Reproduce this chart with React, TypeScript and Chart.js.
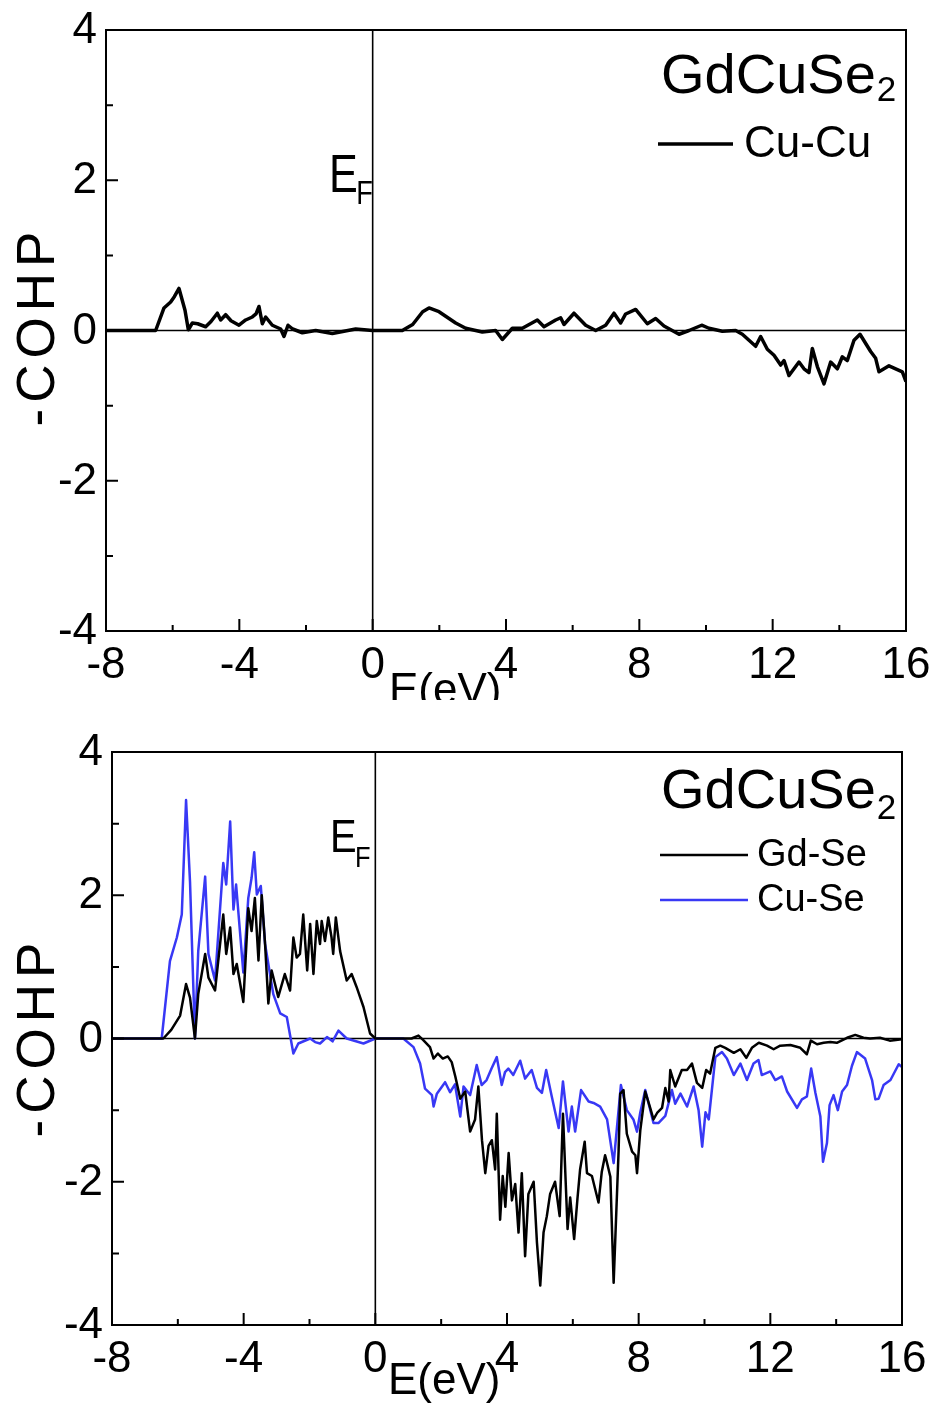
import React, { useEffect, useRef } from "react";
import { Chart, registerables } from "chart.js";

Chart.register(...registerables);

const FONT = '"Liberation Sans", Arial, Helvetica, sans-serif';

// ---- axis ticks ----
const xTicks = [-8, -4, 0, 4, 8, 12, 16];
const xMinorTicks = [-6, -2, 2, 6, 10, 14];
const yTicks = [-4, -2, 0, 2, 4];
const yMinorTicks = [-3, -1, 1, 3];

// ---- Cu-Cu bond COHP (upper panel) ----
const cuCuE = [
  -8, -6.51, -6.26, -6.06, -5.95, -5.81, -5.63, -5.53, -5.41, -5.25, -5.01, -4.85, -4.66, -4.56,
  -4.41, -4.25, -4.01, -3.81, -3.61, -3.5, -3.41, -3.31, -3.21, -3.01, -2.76, -2.66, -2.54, -2.4,
  -2.11, -1.71, -1.21, -0.51, 0, 0.89, 1.2, 1.5, 1.69, 1.99, 2.29, 2.49, 2.79, 3.29, 3.69, 3.89,
  4.19, 4.49, 4.94, 5.14, 5.49, 5.64, 5.74, 6.04, 6.39, 6.69, 6.99, 7.24, 7.44, 7.59, 7.89, 8.24,
  8.49, 8.74, 9.19, 9.49, 9.87, 10.09, 10.49, 10.89, 11.09, 11.49, 11.64, 11.84, 12.04, 12.24,
  12.34, 12.49, 12.79, 12.94, 13.09, 13.19, 13.34, 13.54, 13.74, 13.94, 14.09, 14.24, 14.44,
  14.62, 14.94, 15.09, 15.19, 15.49, 15.74, 15.89, 16,
];
const cuCuV = [
  0, 0, 0.3, 0.38, 0.45, 0.56, 0.27, 0.01, 0.1, 0.09, 0.05, 0.12, 0.23, 0.14,
  0.21, 0.13, 0.07, 0.14, 0.18, 0.22, 0.32, 0.09, 0.18, 0.07, 0.02, -0.08, 0.07, 0.02,
  -0.03, 0, -0.04, 0.02, 0, 0, 0.08, 0.25, 0.3, 0.25, 0.16, 0.1, 0.03, -0.02, 0, -0.12,
  0.03, 0.03, 0.14, 0.05, 0.14, 0.17, 0.08, 0.23, 0.07, 0, 0.07, 0.23, 0.1, 0.22, 0.28, 0.09,
  0.16, 0.06, -0.05, 0, 0.07, 0.03, -0.01, 0, -0.05, -0.21, -0.08, -0.25, -0.33, -0.46,
  -0.4, -0.6, -0.42, -0.51, -0.56, -0.24, -0.48, -0.71, -0.42, -0.51, -0.35, -0.4, -0.13,
  -0.05, -0.28, -0.37, -0.55, -0.47, -0.52, -0.55, -0.68,
];

// ---- Gd-Se bond COHP (lower panel, black) ----
const gdSeE = [
  -8, -6.44, -6.2, -5.93, -5.75, -5.63, -5.48, -5.38, -5.17, -5.07, -4.87, -4.62, -4.53, -4.41,
  -4.31, -4.21, -4.01, -3.86, -3.76, -3.66, -3.55, -3.45, -3.35, -3.25, -3.15, -2.95, -2.75,
  -2.59, -2.49, -2.39, -2.29, -2.19, -2.07, -1.98, -1.88, -1.78, -1.68, -1.63, -1.53, -1.43,
  -1.33, -1.28, -1.2, -1.07, -0.87, -0.72, -0.57, -0.36, -0.16, 0, 1.1, 1.31, 1.45, 1.66, 1.77,
  1.9, 2.05, 2.2, 2.32, 2.43, 2.58, 2.73, 2.88, 3.03, 3.13, 3.24, 3.34, 3.44, 3.54, 3.64, 3.69,
  3.79, 3.87, 3.95, 4.05, 4.15, 4.25, 4.35, 4.45, 4.55, 4.65, 4.81, 4.91, 5.01, 5.11, 5.21,
  5.31, 5.46, 5.6, 5.7, 5.84, 5.92, 6.04, 6.14, 6.22, 6.36, 6.43, 6.58, 6.78, 6.88, 6.98, 7.02,
  7.14, 7.24, 7.39, 7.44, 7.54, 7.64, 7.8, 7.9, 7.95, 8.05, 8.2, 8.35, 8.45, 8.56, 8.71, 8.81,
  8.91, 8.96, 9.11, 9.31, 9.47, 9.62, 9.77, 9.93, 10.05, 10.17, 10.33, 10.48, 10.63, 10.89,
  11.09, 11.27, 11.44, 11.65, 11.9, 12.1, 12.3, 12.61, 12.91, 13.11, 13.23, 13.42, 13.62, 13.82,
  14.02, 14.33, 14.58, 14.83, 15.03, 15.33, 15.63, 16,
];
const gdSeV = [
  0, 0, 0.12, 0.32, 0.76, 0.57, 0, 0.62, 1.18, 0.85, 0.67, 1.73, 1.18, 1.55,
  0.9, 1.04, 0.51, 1.82, 1.5, 1.96, 1.09, 2.0, 1.32, 0.49, 0.95, 0.58, 0.9,
  0.67, 1.41, 1.13, 1.18, 1.73, 0.95, 1.6, 0.9, 1.64, 1.32, 1.64, 1.36, 1.69,
  1.41, 1.18, 1.69, 1.22, 0.81, 0.9, 0.72, 0.44, 0.07, 0, 0, 0.04, -0.02, -0.12, -0.28,
  -0.21, -0.28, -0.25, -0.33, -0.53, -0.84, -0.74, -1.3, -1.13, -0.67, -1.42, -1.88, -1.5, -1.42, -1.83, -1.05,
  -2.53, -1.92, -2.35, -1.6, -2.26, -2.03, -2.71, -1.88, -3.04, -2.17, -2.0, -2.85, -3.45, -2.71, -2.48,
  -2.17, -2.0, -2.48, -1.05, -2.66, -2.22, -2.8, -2.24, -1.83, -1.44, -1.88, -1.92, -2.29, -1.86, -1.63, -1.7,
  -1.93, -3.41, -1.57, -0.77, -0.72, -1.33, -1.58, -1.63, -1.88, -1.28, -0.74, -0.97, -1.13, -1.04, -0.97, -0.69,
  -0.88, -0.44, -0.67, -0.44, -0.44, -0.35, -0.62, -0.69, -0.44, -0.49, -0.13, -0.1, -0.13, -0.2,
  -0.15, -0.27, -0.13, -0.06, -0.1, -0.15, -0.1, -0.09, -0.13, -0.22, -0.03, -0.08, -0.06, -0.05,
  -0.06, 0.01, 0.05, 0.01, 0, 0.01, -0.03, -0.01,
];

// ---- Cu-Se bond COHP (lower panel, blue) ----
const cuSeE = [
  -8, -6.49, -6.24, -6.03, -5.88, -5.75, -5.63, -5.48, -5.38, -5.17, -5.07, -4.87, -4.62, -4.53,
  -4.41, -4.31, -4.23, -4.01, -3.86, -3.76, -3.68, -3.6, -3.48, -3.35, -3.1, -2.89, -2.69, -2.49,
  -2.34, -1.98, -1.83, -1.68, -1.47, -1.3, -1.12, -0.87, -0.36, 0, 0.85, 1.16, 1.36, 1.51, 1.72,
  1.77, 1.87, 2.12, 2.27, 2.42, 2.58, 2.68, 2.88, 3.08, 3.23, 3.38, 3.53, 3.69, 3.84, 3.94, 4.04,
  4.19, 4.4, 4.55, 4.75, 4.91, 5.06, 5.19, 5.36, 5.57, 5.7, 5.87, 5.97, 6.07, 6.25, 6.48, 6.63,
  6.83, 7.04, 7.24, 7.46, 7.64, 7.84, 7.95, 8.05, 8.2, 8.45, 8.6, 8.81, 9.01, 9.11, 9.27, 9.47,
  9.67, 9.82, 9.93, 10.03, 10.13, 10.33, 10.53, 10.68, 10.89, 11.09, 11.29, 11.49, 11.64, 11.74,
  12.0, 12.15, 12.35, 12.51, 12.81, 12.96, 13.11, 13.24, 13.37, 13.52, 13.6, 13.72, 13.8, 13.92,
  14.05, 14.18, 14.33, 14.48, 14.63, 14.88, 15.09, 15.19, 15.29, 15.44, 15.65, 15.9, 16,
];
const cuSeV = [
  0, 0, 1.08, 1.41, 1.73, 3.33, 2.19, 0, 1.22, 2.26, 1.18, 0.81, 2.45, 2.15,
  3.03, 1.8, 2.15, 0.92, 1.96, 2.24, 2.6, 2.01, 2.13, 1.32, 0.62, 0.35, 0.3, -0.21,
  -0.07, 0, -0.05, -0.07, 0.02, -0.04, 0.11, 0, -0.07, 0, 0, -0.12, -0.35, -0.7, -0.79,
  -0.95, -0.77, -0.61, -0.75, -0.64, -1.09, -0.67, -0.79, -0.37, -0.65, -0.58, -0.42, -0.26, -0.65, -0.47, -0.42,
  -0.51, -0.31, -0.56, -0.44, -0.69, -0.76, -0.44, -0.81, -1.25, -0.6, -1.3, -0.95, -1.3, -0.72, -0.88, -0.9,
  -0.95, -1.13, -1.74, -0.65, -1.0, -1.13, -1.3, -1.03, -0.72, -1.18, -1.18, -1.08, -0.72, -0.91, -0.77, -0.95,
  -0.67, -1.0, -1.51, -1.03, -1.13, -0.26, -0.19, -0.28, -0.51, -0.35, -0.58, -0.35, -0.3, -0.51,
  -0.46, -0.58, -0.53, -0.74, -0.97, -0.85, -0.81, -0.42, -0.76, -1.09, -1.72, -1.46, -0.93, -0.79,
  -1.0, -0.74, -0.65, -0.38, -0.19, -0.28, -0.58, -0.85, -0.84, -0.65, -0.58, -0.36, -0.4,
];

type Series = { label: string; e: number[]; v: number[]; color: string; width: number };

type PanelSpec = {
  height: number;
  area: { left: number; right: number; top: number; bottom: number };
  series: Series[];
  compound: { x: number; y: number; size: number; subSize: number; subDy: number };
  legend: { lineX0: number; lineX1: number; textX: number; y0: number; dy: number; size: number };
  fermi: { x: number; y: number; size: number; subSize: number; subDy: number; squeeze: number };
  xTitle: { x: number; y: number; size: number };
  yTitle: { cx: number; cy: number; size: number; spacing: number };
  tickSize: number;
  xLabelDy: number;
};

const BLACK = "#000000";
const BLUE = "#3838f5";

const topPanel: PanelSpec = {
  height: 700,
  area: { left: 106, right: 906, top: 30, bottom: 631 },
  series: [{ label: "Cu-Cu", e: cuCuE, v: cuCuV, color: BLACK, width: 3.5 }],
  compound: { x: 661, y: 93, size: 56, subSize: 35, subDy: 8 },
  legend: { lineX0: 658, lineX1: 733, textX: 744, y0: 144, dy: 45, size: 44 },
  fermi: { x: 329, y: 192, size: 54, subSize: 34, subDy: 12, squeeze: 0.8 },
  xTitle: { x: 389, y: 704, size: 44 },
  yTitle: { cx: 35, cy: 329, size: 53, spacing: 6 },
  tickSize: 44,
  xLabelDy: 47,
};

const bottomPanel: PanelSpec = {
  height: 710,
  area: { left: 112, right: 902, top: 52, bottom: 625 },
  series: [
    { label: "Gd-Se", e: gdSeE, v: gdSeV, color: BLACK, width: 2.5 },
    { label: "Cu-Se", e: cuSeE, v: cuSeV, color: BLUE, width: 2.5 },
  ],
  compound: { x: 661, y: 108, size: 56, subSize: 35, subDy: 11 },
  legend: { lineX0: 660, lineX1: 748, textX: 757, y0: 155, dy: 45, size: 38 },
  fermi: { x: 330, y: 152, size: 47, subSize: 30, subDy: 15, squeeze: 0.85 },
  xTitle: { x: 388, y: 694, size: 44 },
  yTitle: { cx: 35, cy: 340, size: 53, spacing: 6 },
  tickSize: 44,
  xLabelDy: 47,
};

function font(size: number) {
  return `${size}px ${FONT}`;
}

function makeDecorations(spec: PanelSpec) {
  return {
    id: "cohpDecorations",
    beforeDatasetsDraw(chart: any) {
      const { ctx, chartArea: a, scales } = chart;
      const x0 = scales.x.getPixelForValue(0);
      const y0 = scales.y.getPixelForValue(0);
      ctx.save();
      ctx.strokeStyle = "#000";
      ctx.lineWidth = 1.6;
      ctx.beginPath();
      ctx.moveTo(a.left, y0);
      ctx.lineTo(a.right, y0);
      ctx.moveTo(x0, a.top);
      ctx.lineTo(x0, a.bottom);
      ctx.stroke();
      ctx.restore();
    },
    afterDatasetsDraw(chart: any) {
      const { ctx, chartArea: a, scales } = chart;
      const xs = scales.x;
      const ys = scales.y;
      ctx.save();
      ctx.strokeStyle = "#000";
      ctx.fillStyle = "#000";

      // frame
      ctx.lineWidth = 2;
      ctx.strokeRect(a.left, a.top, a.right - a.left, a.bottom - a.top);

      // inward tick marks on bottom and left axes
      ctx.lineWidth = 2;
      ctx.beginPath();
      xTicks.forEach((t) => {
        const px = xs.getPixelForValue(t);
        ctx.moveTo(px, a.bottom);
        ctx.lineTo(px, a.bottom - 12);
      });
      xMinorTicks.forEach((t) => {
        const px = xs.getPixelForValue(t);
        ctx.moveTo(px, a.bottom);
        ctx.lineTo(px, a.bottom - 6);
      });
      yTicks.forEach((t) => {
        const py = ys.getPixelForValue(t);
        ctx.moveTo(a.left, py);
        ctx.lineTo(a.left + 12, py);
      });
      yMinorTicks.forEach((t) => {
        const py = ys.getPixelForValue(t);
        ctx.moveTo(a.left, py);
        ctx.lineTo(a.left + 7, py);
      });
      ctx.stroke();

      // tick labels
      ctx.font = font(spec.tickSize);
      ctx.textAlign = "center";
      ctx.textBaseline = "alphabetic";
      xTicks.forEach((t) => {
        ctx.fillText(String(t), xs.getPixelForValue(t), a.bottom + spec.xLabelDy);
      });
      ctx.textAlign = "right";
      ctx.textBaseline = "middle";
      yTicks.forEach((t) => {
        ctx.fillText(String(t), a.left - 9, ys.getPixelForValue(t) + 1);
      });

      // compound name with subscript
      ctx.textAlign = "left";
      ctx.textBaseline = "alphabetic";
      const c = spec.compound;
      ctx.font = font(c.size);
      ctx.fillText("GdCuSe", c.x, c.y);
      const w = ctx.measureText("GdCuSe").width;
      ctx.font = font(c.subSize);
      ctx.fillText("2", c.x + w + 1, c.y + c.subDy);

      // legend entries
      const l = spec.legend;
      spec.series.forEach((s, i) => {
        const y = l.y0 + i * l.dy;
        ctx.strokeStyle = s.color;
        ctx.lineWidth = s.width;
        ctx.beginPath();
        ctx.moveTo(l.lineX0, y);
        ctx.lineTo(l.lineX1, y);
        ctx.stroke();
        ctx.font = font(l.size);
        ctx.fillStyle = "#000";
        ctx.textBaseline = "middle";
        ctx.fillText(s.label, l.textX, y + 1);
      });

      // Fermi level marker (narrow lettering)
      const f = spec.fermi;
      ctx.textBaseline = "alphabetic";
      ctx.save();
      ctx.translate(f.x, f.y);
      ctx.scale(f.squeeze, 1);
      ctx.font = font(f.size);
      ctx.fillText("E", 0, 0);
      const ew = ctx.measureText("E").width;
      ctx.font = font(f.subSize);
      ctx.fillText("F", ew - 2, f.subDy);
      ctx.restore();

      // x axis title
      const xt = spec.xTitle;
      ctx.font = font(xt.size);
      ctx.fillText("E(eV)", xt.x, xt.y);

      // y axis title, rotated, letter-spaced
      const yt = spec.yTitle;
      ctx.font = font(yt.size);
      const chars = "-COHP".split("");
      const widths = chars.map((ch) => ctx.measureText(ch).width);
      const total = widths.reduce((p, q) => p + q, 0) + yt.spacing * (chars.length - 1);
      ctx.translate(yt.cx, yt.cy);
      ctx.rotate(-Math.PI / 2);
      let cx = -total / 2;
      const base = yt.size * 0.358;
      chars.forEach((ch, i) => {
        ctx.fillText(ch, cx, base);
        cx += widths[i] + yt.spacing;
      });
      ctx.restore();
    },
  };
}

function buildConfig(spec: PanelSpec): any {
  const a = spec.area;
  return {
    type: "line",
    data: {
      datasets: spec.series.map((s) => ({
        label: s.label,
        data: s.e.map((x, i) => ({ x, y: s.v[i] })),
        borderColor: s.color,
        borderWidth: s.width,
        borderJoinStyle: "round",
        pointRadius: 0,
        tension: 0,
        fill: false,
      })),
    },
    options: {
      animation: false,
      responsive: false,
      devicePixelRatio: 1,
      events: [],
      layout: { padding: { left: 0, right: 941 - a.right, top: a.top, bottom: 0 } },
      plugins: { legend: { display: false }, tooltip: { enabled: false }, title: { display: false } },
      scales: {
        x: {
          type: "linear",
          min: -8,
          max: 16,
          ticks: { display: false },
          grid: { display: false },
          border: { display: false },
          afterFit: (s: any) => {
            s.height = spec.height - a.bottom;
          },
        },
        y: {
          type: "linear",
          min: -4,
          max: 4,
          ticks: { display: false },
          grid: { display: false },
          border: { display: false },
          afterFit: (s: any) => {
            s.width = a.left;
          },
        },
      },
    },
    plugins: [makeDecorations(spec)],
  };
}

function Panel({ spec, top }: { spec: PanelSpec; top: number }) {
  const ref = useRef<HTMLCanvasElement>(null);
  useEffect(() => {
    const chart = new Chart(ref.current as HTMLCanvasElement, buildConfig(spec));
    return () => chart.destroy();
  }, [spec]);
  return (
    <canvas
      ref={ref}
      width={941}
      height={spec.height}
      style={{ position: "absolute", left: 0, top, width: 941, height: spec.height }}
    />
  );
}

export default function App() {
  return (
    <div style={{ position: "absolute", left: 0, top: 0, width: 941, height: 1410, background: "#fff" }}>
      <Panel spec={topPanel} top={0} />
      <Panel spec={bottomPanel} top={700} />
    </div>
  );
}
